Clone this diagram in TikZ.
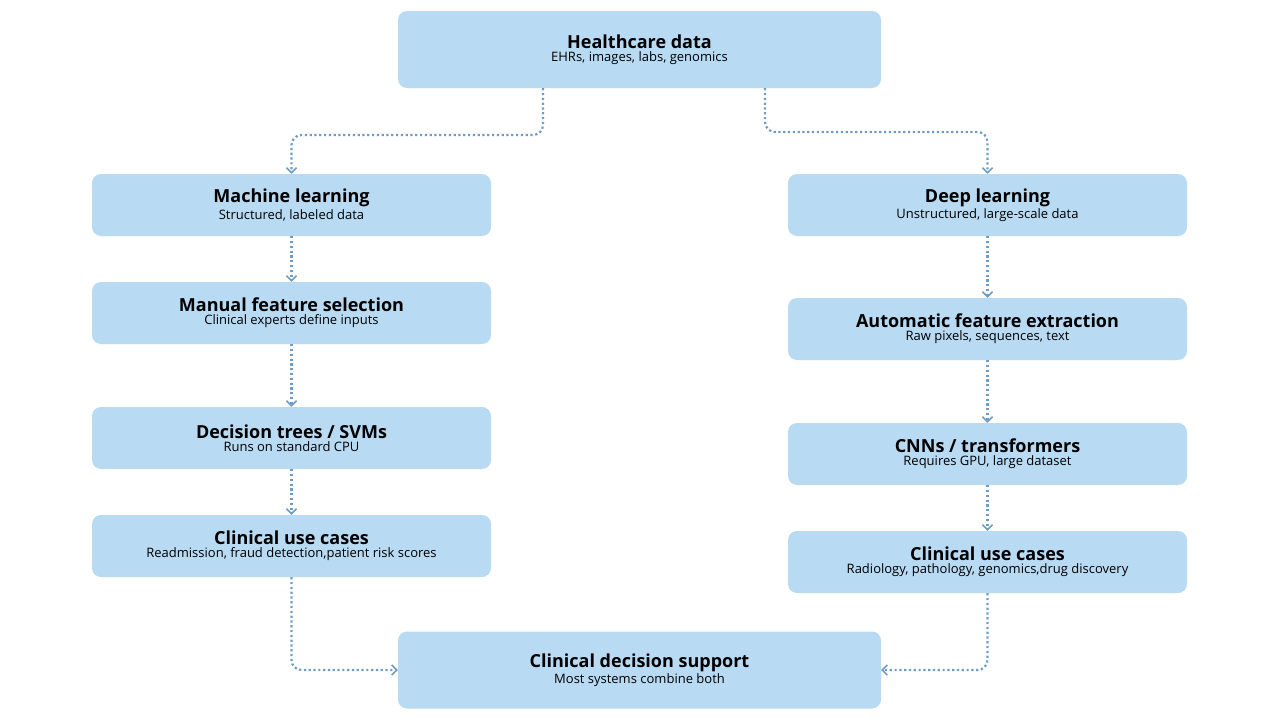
\documentclass[tikz,border=0pt]{standalone}
\usepackage{fontspec}
\setmainfont{Open Sans}
\usetikzlibrary{positioning, arrows.meta}
\definecolor{boxblue}{HTML}{B8DAF3}
\definecolor{arrowblue}{HTML}{6F9CC4}
\newcommand{\boxtext}[2]{{\fontsize{18}{22}\selectfont\bfseries #1}\\[1pt]{\fontsize{13}{16}\selectfont #2}}
\begin{document}
\begin{tikzpicture}[x=1pt, y=-1pt,
  box/.style={fill=boxblue, rounded corners=9pt, align=center, inner sep=0pt},
  wide/.style={box, minimum width=483pt, minimum height=77pt},
  stage/.style={box, minimum width=399pt, minimum height=62pt},
  flow/.style={arrowblue, line width=2.2pt, dash pattern=on 2.2pt off 2.6pt, rounded corners=10pt, -{Straight Barb[length=5pt, width=10pt, line width=1.6pt]}}]

	\useasboundingbox (0,0) rectangle (1280,720);

	\node[wide] (data) at (639.5,49.5) {\boxtext{Healthcare data}{EHRs, images, labs, genomics}};
	\node[stage] (ml) at (291.5,205) {\boxtext{Machine learning}{Structured, labeled data}};
	\node[stage] (manual) at (291.5,313) {\boxtext{Manual feature selection}{Clinical experts define inputs}};
	\node[stage] (trees) at (291.5,438) {\boxtext{Decision trees / SVMs}{Runs on standard CPU}};
	\node[stage] (mluse) at (291.5,546) {\boxtext{Clinical use cases}{Readmission, fraud detection,patient risk scores}};
	\node[stage] (dl) at (987.5,205) {\boxtext{Deep learning}{Unstructured, large-scale data}};
	\node[stage] (auto) at (987.5,329) {\boxtext{Automatic feature extraction}{Raw pixels, sequences, text}};
	\node[stage] (cnn) at (987.5,454) {\boxtext{CNNs / transformers}{Requires GPU, large dataset}};
	\node[stage] (dluse) at (987.5,562) {\boxtext{Clinical use cases}{Radiology, pathology, genomics,drug discovery}};
	\node[wide] (cds) at (639.5,670) {\boxtext{Clinical decision support}{Most systems combine both}};

	\draw[flow] (data.south -| 543,0) |- (415,135) -| (ml.north);
	\draw[flow] (data.south -| 765,0) |- (865,132) -| (dl.north);
	\draw[flow] (ml) -- (manual);
	\draw[flow] (manual) -- (trees);
	\draw[flow] (trees) -- (mluse);
	\draw[flow] (dl) -- (auto);
	\draw[flow] (auto) -- (cnn);
	\draw[flow] (cnn) -- (dluse);
	\draw[flow] (mluse.south) |- (cds.west);
	\draw[flow] (dluse.south) |- (cds.east);
\end{tikzpicture}
\end{document}
